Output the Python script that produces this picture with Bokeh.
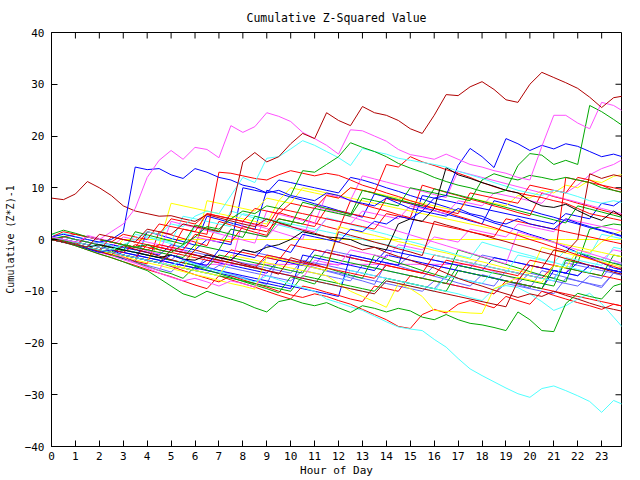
from bokeh.plotting import figure
from bokeh.models import FixedTicker, Range1d
from bokeh.embed import file_html
from bokeh.resources import INLINE

hours = [i * 0.5 for i in range(49)]
x_ticks = list(range(24))
y_ticks = [-40, -30, -20, -10, 0, 10, 20, 30, 40]
X_MAX = 23.83
Y_MIN, Y_MAX = -40, 40

RED = "#ff0000"; GREEN = "#00a800"; BLUE = "#0000ff"; MAGENTA = "#ff50ff"
CYAN = "#50ffff"; DARKRED = "#b00000"; YELLOW = "#ffff00"; BLACK = "#000000"; SLATE = "#6464ff"

s01 = [0,-0.5,-1,-1.5,1,0.5,0,-0.5, 2,1.5,1,3,2.5,2,1.5,5, 15,16.8,15,16,18.5,20.5,19.5,24.5,
       23,22,25.7,24.5,24,23,21.4,20.5, 24,28,27.8,29.5,30.5,29,27,26.5, 30,32.3,31.3,30.3,29.2,27.5,25.5,27.4, 27.8]
s02 = [8,7.7,8.8,11.2,10,8.5,6.5,5.5, 5,4.5,4.6,4,3.5,4.8,4.2,3.6, 3,2.5,4,3.2,2.5,1.8,1.2,0.5,
       -0.5,-1.2,-2,-1.5,-2.5,-3.3,-4,-4.8, -5.5,-6.5,-7.5,-8.3,-9,-9.8,-10.5,-11.2, -10.5,-11,-10,-10.8,-11.5,-12.3,-13,-13.5, -14]
s03 = [0.5,0,-0.5,0.5,0,1.5,3,6, 12,15.3,17.2,15.5,17.8,17.4,15.8,22, 20.7,21.8,24.5,23.8,22.8,20.7,19.5,18.2,
       16.5,21.2,21,20,19,17.4,16.4,16, 15.5,16.5,15.5,14.5,14,13.3,12.8,12, 11.5,18,24,24,22.5,21.4,26.5,25.9, 24.5]
s04 = [1,1.8,1.2,0.5,0,-0.5,-1,-1.5, -1,-2,-2.5,-1,0.5,2.5,2,4, 5.5,5,6.5,6,8.5,13.3,13,14.5,
       16,18.7,17.8,17,16,14.7,13.8,13, 12,11.2,10.5,10,9.3,8.9,9.5,14.3, 16.6,16.3,14.5,15.3,14.5,25.9,24.7,23.2, 21.6]
s05 = [0,-0.5,-1,-1.8,-2.5,-2,-3,-3.5, -4,-4.5,-3,-3.8,-4.5,-5,-2,-2.5, -3,-3.5,-1,-1.8,-2.5,1,0.5,0,
       -0.5,2,1.5,3.5,3,4.5,4,5.5, 8,8.5,14.3,17.6,16,13.9,19.5,18.5, 17.2,18.2,17.5,18.5,18,17,16,16.5, 15.8]
s06 = [0.5,1,0.5,0,-0.5,0,1.5,14, 13.5,13.7,12.5,11.8,13.7,13,12,11.5, 10.5,10,9,9.5,8.5,8,7.5,9,
       8.5,7.5,7,6.5,8,7,6,5.5, 5,4.5,6,5,4.5,3.5,3,4, 3,2.5,2,4,3.2,2.5,1.8,1.2, 0.5]
s07 = [0.5,0,-0.5,-1,-1.5,-2,-1,0, 1.5,1,3,2.5,4.5,5.5,5,8.5, 12,11,15.7,16,17.5,19.1,18.2,17,
       15.8,14.3,17.6,17,16.5,15.7,15.3,14.9, 14.5,14,13.2,12.5,11.8,11,10.3,9.5, 9,8.5,9.5,9,8.3,7.5,7,7.5, 7]
s08 = [0,-0.5,-1,-1.5,-2,-2.5,-3,-3.5, -4,-4.5,-5,-4,-4.8,-5.5,-6.2,-6.8, -7.5,-8.2,-7,-7.8,-8.6,-9.3,-10,-11.5,
       -12.2,-13,-13.7,-14.8,-15.9,-16.9,-17.3,-17.6, -19.3,-20.8,-23,-25,-26.3,-27.5,-28.7,-29.8,
       -30.5,-28.8,-28.3,-29.2,-30.2,-31.3,-33.4,-31.1, -32.1]
s09 = [0,-0.5,-1.2,-2,-2.8,-3.5,-4.3,-5.2, -6,-7.5,-9,-10.5,-11.2,-10,-10.8,-11.5, -12.2,-13.2,-14,-12,-11.5,-12.3,-12.8,-12.2,
       -13.2,-14.1,-12.8,-13.3,-14,-13.3,-13.8,-15, -15.5,-14.5,-15.5,-16.2,-16.5,-17,-17.6,-14,
       -15.5,-17.6,-17.8,-12.4,-10.4,-11,-11.5,-9, -8.3]
s10 = [0,-0.5,-1,0.5,0,-0.5,-1,-1.5, -2,-1,-1.5,-2,1,0.5,0,-0.5, 2.5,2,1.5,4,3.5,3,2.5,6,
       5.5,5,4.5,4,8,7.5,7,6.5, 6,5.5,5,9,8.5,8,7.5,7, 10.5,10,9.5,9,12,11.5,10.5,9.5, 9]
s11 = [0,-0.5,-1,-1.5,-2,-2.5,-3,-3.5, -4,-4.5,-5.2,-6,-6.8,-7.5,-8.2,-7, -7.8,-8.5,-9.2,-10,-10.7,-11.2,-10.5,-11,
       -11.8,-12.5,-13.5,-14.5,-15.5,-16.8,-17.2,-14.5, -13.5,-14.2,-12.5,-11.8,-12.5,-13.2,-11,-11.8,
       -12.5,-10,-10.8,-11.5,-12.2,-12.8,-13.5,-12.5, -13]
s12 = [0,0.5,1,0.5,0,-0.5,1,0.5, 0,3,2.5,2,1.5,5,4.5,4, 3.5,6,5.5,5,7,6.5,6,8.5,
       8,10,9.5,9,14.5,14,16,15, 14.3,13.5,12.8,12,11,10.2,9.5,9, 8.5,8.1,7.5,7,6,5,4.5,4, 3.5]
s13 = [0,-0.5,-1,-1.5,-2,-1,-1.5,-2, -2.5,-3,-1,-1.5,-2,0,-0.5,-1, 10,9.5,9,11.5,11,10.5,10,9.5,
       9,12,11.5,10.8,10,9.3,8.5,7.8, 7,6.3,5.5,4.8,4,3.2,2.5,1.8, 1,0.3,-0.5,-1.5,-2.5,-3.5,-4.5,-5.5, -6]
s14 = [0.5,0,-0.5,-1,-1.5,-2,-2.5,-3, -3.5,-4,-4.5,-5,-5.5,-4,-4.5,-5, -5.5,-6,-6.5,-4,-4.5,-5,-2,-2.5,
       -3,-3.5,-4,-4.5,-2,-2.5,-3,-3.5, -4,-4.5,-5,-5.5,-6,-3.5,-4,-4.5, -5,-5.5,-6,-6.5,-4.5,-5,-5.5,-6, -6.5]
s15 = [0,-0.5,-1,-1.5,-2,-2.5,-3,-3.5, -4,-4.5,-5,-5.5,-6,-6.5,-5,-5.5, -6,-6.5,-7,-7.5,-8,-6,-6.5,-7,
       -7.5,-8,-5,-5.5,-6,-6.5,-7,-7.5, -5,-5.5,-6,-6.5,-7,-7.5,-8,-8.5, -6.5,-7,-7.5,-4.5,-5,-5.5,-6,-6.5, -4.5]
s16 = [0.5,0,-0.5,-1,-0.5,-1,-1.5,-2, -2.5,-1.5,-2,-2.5,-3,-3.5,-4,-4.5, -5,-5.5,-3.5,-4,-4.5,-5,-5.5,-6,
       -6.5,-7,-7.5,-8,-8.5,-9,-9.5,-10, -8,-8.5,-9,-9.5,-10,-10.5,-8.5,-9, -9.5,-10,-10.5,-7.5,-8,-8.5,-9,-6.5, -7]
s17 = [0,0.5,0,-0.5,-1,-1.5,-2,-2.5, -3,-3.5,-4,-2,-2.5,-3,-3.5,-4, -2,-2.5,-3,-3.5,-4,-4.5,-5,-2,
       -2.5,-3,-3.5,-4,-4.5,-5,-3,-3.5, -4,-4.5,-5,-5.5,-3,-3.5,-4,-4.5, -5,-5.5,-6,-6.5,-7,-5,-5.5,-6, -6.5]
s18 = [0,-0.5,-1,-1.5,-2,-2.5,-3,-3.5, -4,-4.5,-5,-5.5,-6,-4.8,-4.8,-4.8, -4.8,-4.8,-4.8,-4.8,-4.8,-4.8,-4.8,-4.8,
       -4.8,-4.8,-4.8,-4.8,-4.8,-4.8,-4.8,-4.8, -4.8,-4.8,-4.8,-4.8,-5.5,-6.2,-7,-7.8, -5,-5.5,-6,-6.5,-3,-3.5,-4,-2, -2.5]
s19 = [0,-0.5,-1,-1.5,-2,-2.5,0,0, 0,0,0,0,0,0,0,0, 0,0,0,0,0,0,0,0,
       0,0,0,0,0,0,0,0, 0,0,0,0,0,0,0,0, 0,0,0,0,0,0,0,0, 0]
s20 = [0,-0.5,-1,-1.5,-2,-2.5,-3.5,-4.5, -5.5,-6.5,-7.3,-8,-7.5,-8.2,-9,-8, -8.5,-9.2,-6,-6.5,-7,-7.5,-4,-4.5,
       -5,-2,-2.5,-3,-3.5,-1,-1.5,-2, 0.5,0,-0.5,2,1.5,1,0.5,3, 2.5,2,1.5,4,3.5,3,2.5,2, 1.5]
s21 = [0,0.5,0,-0.5,-1,-1.5,0.5,0, -0.5,-1,-1.5,-2,0.5,0,-0.5,2, 1.5,1,0.5,3,2.5,2,1.5,4,
       3.5,3,5.5,5,4.5,4,6.5,6, 5.5,5,7.5,7,6.5,9,8.5,8, 7.5,7,9.5,9,10.5,12.5,13.7,14.5, 15.8]
s22 = [0,-0.5,-1.2,-2,-2.8,-3.5,-4.3,-5, -5.8,-6.5,-7.2,-8,-8.8,-9.5,-7,-7.8, -8.5,-9.2,-10,-10.8,-11.5,-9,-9.5,-10.2,
       -10.8,-11.5,-12,-9,-9.5,-10,-7,-7.5, -8,-8.5,-9,-9.5,-10,-10.5,-8,-8.5, -9,-9.5,-10,-10.5,-11,-11.5,-12,-12.5, -13]
s23 = [0.5,0,-0.5,-1,-1.5,-2,-2.5,-1, -1.5,-2,-2.5,-3,-3.5,-4,-4.5,-2, -2.5,-3,-3.5,-4,-1,-1.5,-2,-2.5,
       -3,-3.5,-4,-4.5,-5,-5.5,-6,-6.5, -3,-3.5,-4,-4.5,-5,-5.5,-6,-6.5, -7,-7.5,-5,-5.5,-6,-6.5,-7,-7.5, -8]
s24 = [0,-0.5,-1,-1.5,-2,0.5,0,-0.5, -1,-1.5,-2,2,1.5,1,13,12.8, 12.3,11.8,11.5,12.5,13.3,12.8,12.3,12.8,
       12.4,11.5,10.5,9.8,9,8.3,7.5,6.8, 6,5.3,4.5,3.8,3,2.3,1.5,0.8, 0,-0.7,-1.5,-2.2,-3,-3.7,-4.5,-5.2, -6]
s25 = [0,-0.5,-1,-1.5,-2,-2.5,-1,-1.5, -2,-2.5,-3,-3.5,-1,-1.5,-2,2, 1.5,1,0.5,4,3.5,3,6,5.5,
       5,4.5,8,7.5,7,6.5,10,9.5, 9,8.5,8,7.5,11.5,12.7,12,11.5, 12.4,12,11.5,12,11.5,11,10,9.5, 8.9]
s26 = [0,0.5,0,-0.5,-1,-1.5,-2,-2.5, -3,-3.5,-4,-4.5,-5,-5.5,-3,-3.5, -4,-4.5,-5,-5.5,-6,-6.5,-3,-3.5,
       -4,-4.5,-5,-5.5,-6,-6.5,-7,-7.5, -8,-8.5,-5,-5.5,-6,-6.5,-7,-7.5, -8,-8.5,-9,-4,-4.5,2,2.5,3, 2.7]
s27 = [0,-0.5,-1,-1.5,-2,-2.5,-3,-3.5, -4,-4.5,-2,-2.5,-3,-3.5,-4,-4.5, -5,-5.5,-6,-6.5,-7,-7.5,-8,-8.5,
       -9,-9.5,-10,-10.5,-8,-8.5,-9,-9.5, -10,-7,-7.5,-8,-8.5,-6,-6.5,-3, -3.5,-4,-4.5,-2,-2.5,-3,1,0.5, 0]
s28 = [0,-0.5,-1,-1.5,-2,-2.5,-3,-3.5, -4,-4.5,-5,-5.5,-6,-6.5,-7,-4.5, -5,-5.5,-6,-6.5,-7,-7.5,-8,-8.5,
       -9,-6,-6.5,-7,-7.5,-8,-8.5,-9, -9.5,-10,-10.5,-11.2,-11.8,-9.5,-8.9,-9.3, -10.5,-12,-13.7,-12.8,-11.5,-10.4,-12.4,-15, -17.6]
s29 = [0,-0.5,-1,-1.5,-2,-2.5,-3,-3.5, -4,-4.5,-5,-5.5,-2,7.5,7,6.5, 6,5.5,8,7.5,10,9.5,9,8.5,
       8,10,9.5,9,8.5,8,7.5,7, 6.5,6,5.5,8,7.5,7,6.5,8.5, 8,9.5,9,10.5,10,11.5,11,12.2, 12.7]
s30 = [0,-0.5,-1,-1.5,-2,-2.5,-3,-3.5, -4,-4.5,-5,-5.5,-6,-6.5,-7,-3, -3.5,-4,-4.5,-5,-5.5,-6,-6.5,-7,
       -8.5,-10,-11,-12,-13.1,-8.5,-9.5,-11, -13.7,-13.9,-14,-14.2,-14.3,-9.5,-8.5,-7.3, -7.8,-8.3,-5,-5.5,-2,-2.5,-0.5,1, 2]
s31 = [0,-0.5,-1,-1.5,-1,-1.5,-2,-2.5, -3,-3.5,-3,-3.8,-4,-3,-3.5,-4, -2,-2.5,-1.5,-1,0,1.5,1,0.5,
       0.3,0,-1,-1.5,-2,3,4,3.5, 6,13.9,12.5,11.8,11,10.3,9.5,9, 7.5,6.5,6.2,6.8,5.6,4.5,3.7,5.5, 4]
s32 = [0,0.5,0,-0.5,-1,-1.5,-2,-2.5, -3,-3.5,-4,-4.5,-5,-5.5,-6,-6.5, -7,-7.5,-8,-8.5,-9,-9.5,-10,-10.5,
       -11,-3,-3.5,-4,-4.5,-5,2,8.5, 8,7.5,7,6.5,6,5.5,5,4.5, 4,3.5,3,5,4.5,4,7,6.5, 8.1]
s33 = [0,-0.5,-1,-1.5,-2,-2.5,-3,-3.5, -4,-4.5,-2,-2.5,-3,-3.5,-4,-4.5, -5,-5.5,-6,-6.5,-7,-7.5,-8,-8.5,
       -9,-9.5,-10,-10.5,-8,-8.5,-9,-9.5, -10,-10.5,-11,-11.5,-12,-12.5,-13,-8, -5,-5.5,-2,-2.5,0,12.7,11.8,12.5, 12]
s34 = [0,-0.5,-1,-1.5,-2,-2.5,-3,-3.5, -1,-1.5,-2,-2.5,-3,-3.5,-4,-4.5, -5,-5.5,-3,-3.5,-4,-4.5,-5,-5.5,
       -6,-6.5,-7,-7.5,-5,-5.5,-6,-6.5, -7,-4,-4.5,-5,-5.5,-6,-6.5,-7, -4,-4.5,-5,12,11.5,11,10.5,10, 9.5]
s35 = [0,-0.5,-1,-1.5,-2,-2.5,-3,-3.5, -4,-4.5,-5,-5.5,-6,-3,-3.5,-4, -4.5,-5,-5.5,-6,-6.5,-4,-4.5,-5,
       -5.5,-6,-6.5,-7,-7.5,-8,-8.5,-9, -9.5,-7,-7.5,-8,-8.5,-9,-6,-6.5, -7,-7.5,-8,-8.5,-9,-7,-7.5,-4.5, -5]
s36 = [0.5,0,-0.5,-1,-1.5,-2,-2.5,-3, -3.5,-4,-4.5,-5,-5.5,-6,-6.5,-7, -7.5,-8,-8.5,-9,-9.5,-3,-3.5,-4,
       -4.5,-5,-5.5,-6,-3,-3.5,-4,-4.5, -5,-5.5,-6,-6.5,-7,-7.5,-8,-8.5, -9,-9.5,-6,-6.5,-7,-5,-5.5,-6, -6.5]
s37 = [0.5,1.5,1,0.5,0,-0.5,-1,-1.5, 1.5,1,4,3.5,3,5,4.5,4, 3.5,3,2.5,6,5.5,5,4.5,4,
       3.5,3,2.5,2,5,4.5,4,3.5, 3,2.5,2,1.5,1,0.5,4,3.5, 3,2.5,2,1.5,1,0.5,0,-0.5, -1]
s38 = [0,-0.5,-1,-1.5,-2,-2.5,-3,-3.5, -4,-4.5,-5,-5.5,-6,-6.5,-7,-7.5, -8,-8.5,-9,-9.5,-10,-7,-7.5,-8,
       -8.5,-9,-9.5,-10,-7.5,-8,-8.5,-9, -9.5,-10,-6,-6.5,-7,-7.5,-8,-8.5, -9,-9.5,-5,-5.5,-6,-6.5,-7,-3, -3.5]
s39 = [1,0.5,0,-0.5,-1,-1.5,-2,1, 0.5,0,-0.5,4.5,4,3.5,3,2.5, 5,4.5,4,3.5,3,2.5,2,1.5,
       1,0.5,0,-0.5,-1,-1.5,-2,-2.5, -3,-3.5,-4,-4.5,-5,-5.5,-6,-6.5, -7,-7.5,-8,-3.5,-4,-4.5,-5,-1.5, -2]
s40 = [0,-0.5,-1,-1.5,-2,-2.5,-3,-3.5, -4,-1,7,6.5,6,5.5,5,4.5, 4,3.5,3,7.5,7,10,9.5,9,
       8.5,8,7.5,7,6.5,6,5.5,5, 4.5,4,3.5,3,2.5,2,1.5,1, 0.5,0,-0.5,-1,-1.5,-2,-2.5,-3, -3.5]
s41 = [0,-0.3,-0.9,-1.6,-2.1,-2.9,-3.4,-4.2, -4.7,1.5,0.9,0.2,-0.5,-1.2,3.5,2.8, 2.1,1.4,0.8,5.2,4.5,3.9,3.2,2.5,
       1.9,7.5,6.8,6.1,5.5,4.8,4.2,10.5, 9.8,9.1,8.5,7.8,7.2,6.5,5.9,5.2, 4.6,9,8.3,7.7,7,6.4,5.7,5.1, 4.5]
s42 = [0.3,-0.2,-0.8,-1.5,-2.2,-3,-3.6,-4.4, -5.2,-6,-6.6,-7.5,-5.2,-5.9,-6.6,-7.3, -8.1,-8.8,-9.5,-10.3,-7.2,-7.9,-8.6,-5.5,
       -6.2,-6.9,-7.5,-3,-3.8,-4.5,-5.2,-6, -6.7,-7.4,-2,-2.7,-3.4,-4.1,-4.8,-5.5, -6.2,-6.9,-7.5,-8.2,-2.5,-3.2,-3.9,-4.6, -5.2]
s43 = [0,-0.6,-1.1,-1.8,-2.5,-3.1,-3.9,-4.6, -5.3,-6,-1.5,-2.2,-2.9,-3.6,-4.3,-5, 3.5,2.8,2.1,1.4,0.7,0,6.5,5.8,
       5.1,4.4,3.7,3,2.3,1.6,0.9,0.2, -0.5,-1.2,-1.9,-2.6,-3.3,-4,-4.7,1.5, 0.8,0.1,-0.6,-1.3,-2,-2.7,-3.4,-4.1, -4.8]
s44 = [0.5,1.2,0.6,0,-0.6,-1.2,-1.9,-2.5, 0.5,-0.2,-0.8,-1.5,2.5,1.9,1.2,5.5, 4.8,4.1,3.5,2.8,2.2,1.5,0.9,4.2,
       3.6,2.9,2.3,1.6,1,0.3,-0.4,-1, -1.7,-2.3,-3,-3.6,-0.5,-1.2,-1.8,-2.5, -3.1,-3.8,-4.4,-5.1,-5.8,-6.4,-3.5,-4.1, -4.8]
s45 = [0,-0.4,-1,-1.6,-2.3,-2.9,-3.6,-4.3, -5,-5.6,-6.3,-4,-4.6,-5.3,-6,-6.7, -7.3,-8,-8.7,-3.5,-4.1,-4.8,-5.4,-6.1,
       -6.7,-7.4,-8,-8.7,-4.5,-5.1,-5.8,-6.4, -7.1,-7.7,-8.4,-9,-6.8,-7.4,-8.1,-8.7, -9.4,-6,-6.7,-7.3,-8,-8.6,-9.3,-6.5, -7.1]
s46 = [0.2,-0.4,-1,-1.7,-2.3,-3,-1.2,-1.9, -2.5,-3.2,-3.9,-4.5,-2,-2.7,-3.4,-4, -4.7,-5.3,-6,-6.7,-3.5,-4.2,-4.8,-5.5,
       1.5,0.8,0.2,-0.5,-1.1,-1.8,-2.4,-3.1, 3.5,2.8,2.2,1.5,0.9,0.2,-0.4,-1.1, -1.7,-2.4,-3,-3.7,-4.3,-5,-5.6,-6.3, -6.9]
s47 = [0,-0.5,-1.1,-1.7,-2.4,-3,-3.7,-4.3, 1.5,0.9,0.2,-0.4,-1.1,4.5,3.9,3.2, 2.6,1.9,9.5,8.9,8.2,7.6,6.9,6.3,
       5.6,5,4.3,8.8,8.2,7.5,6.9,6.2, 5.6,4.9,4.3,3.6,3,7.5,6.9,6.2, 5.6,4.9,4.3,3.6,3,2.3,1.7,1, 0.4]
s48 = [0,-0.5,-1,-1.6,-2.2,-2.8,-3.3,-3.9, -4.5,-5,-5.6,-6.2,-6.8,-7.3,-7.9,-8.5, -9,-9.6,-3.2,-3.8,-4.3,-4.9,-5.5,-6,
       2.5,1.9,1.3,0.8,0.2,-0.4,-0.9,-1.5, -2.1,-2.6,-3.2,-3.8,-4.3,-4.9,-5.5,-6, -6.6,-1.5,-2.1,-2.6,-3.2,-3.8,-4.3,-4.9, -5.5]
s49 = [0,0.6,0,-0.5,-1.1,-1.6,-2.2,1.5, 0.9,0.3,-0.3,-0.9,2.8,2.2,1.6,1, 0.4,4.5,3.9,3.3,2.7,7.2,6.6,6,
       5.4,4.8,9.5,8.9,8.3,7.7,7.1,6.5, 9.8,9.2,8.6,8,7.4,6.8,6.2,5.6, 5,4.4,3.8,3.2,6.5,5.9,5.3,4.7, 4.1]
s50 = [0,-0.5,-1.1,0.8,0.2,-0.4,-1,-1.6, -2.2,-2.8,3.5,2.9,2.3,1.7,1.1,0.5, -0.1,-0.7,5.5,4.9,4.3,3.7,3.1,8.8,
       8.2,7.6,12.3,11.7,11.1,10.5,9.9,9.3, 8.7,8.1,13.2,12.6,12,11.4,10.8,10.2, 9.6,9,8.4,7.8,7.2,6.6,6,5.4, 4.8]

series = [
    (s19, YELLOW), (s18, MAGENTA), (s15, SLATE), (s16, SLATE), (s17, SLATE), (s35, SLATE), (s45, SLATE),
    (s14, BLUE), (s36, BLUE), (s47, BLUE), (s13, BLUE), (s32, BLUE), (s22, RED), (s23, RED), (s11, RED), (s41, RED),
    (s26, GREEN), (s38, GREEN), (s42, GREEN), (s27, CYAN), (s28, CYAN), (s39, CYAN), (s44, CYAN),
    (s30, YELLOW), (s29, YELLOW), (s40, YELLOW), (s48, YELLOW), (s20, MAGENTA), (s21, MAGENTA), (s43, MAGENTA),
    (s50, MAGENTA), (s46, DARKRED), (s37, RED), (s24, RED), (s10, RED), (s12, RED), (s34, RED), (s25, GREEN),
    (s49, GREEN), (s33, DARKRED), (s31, BLACK), (s02, DARKRED), (s06, BLUE), (s05, BLUE), (s07, CYAN),
    (s08, CYAN), (s09, GREEN), (s04, GREEN), (s03, MAGENTA), (s01, DARKRED),
]

FONT = "DejaVu Sans Mono"
FRAME_W, FRAME_H = 570, 414
TICK_PX = 6

p = figure(width=640, height=480, x_range=Range1d(0, X_MAX), y_range=Range1d(Y_MIN, Y_MAX),
           output_backend="svg", toolbar_location=None,
           min_border_left=51, min_border_right=19, min_border_top=32, min_border_bottom=34,
           title="Cumulative Z-Squared Value")
p.title.align = "center"
p.title.text_font = FONT
p.title.text_font_size = "11.5px"
p.title.text_font_style = "normal"
p.title.text_color = "black"
p.title.standoff = 16

p.xgrid.visible = False
p.ygrid.visible = False
p.outline_line_color = "black"
p.outline_line_width = 1
p.background_fill_color = "white"
p.border_fill_color = "white"

p.xaxis.ticker = FixedTicker(ticks=x_ticks)
p.yaxis.ticker = FixedTicker(ticks=y_ticks)
p.xaxis.axis_label = "Hour of Day"
p.yaxis.axis_label = "Cumulative (Z*Z)-1"
for ax in (p.xaxis[0], p.yaxis[0]):
    ax.major_tick_in = TICK_PX
    ax.major_tick_out = 0
    ax.minor_tick_in = 0
    ax.minor_tick_out = 0
    ax.axis_line_color = "black"
    ax.major_tick_line_color = "black"
    ax.major_label_text_font = FONT
    ax.major_label_text_font_size = "11px"
    ax.major_label_text_color = "black"
    ax.axis_label_text_font = FONT
    ax.axis_label_text_font_size = "11px"
    ax.axis_label_text_font_style = "normal"
    ax.axis_label_text_color = "black"
p.xaxis.major_label_standoff = 5
p.xaxis.axis_label_standoff = 1
p.yaxis.major_label_standoff = 7
p.yaxis.axis_label_standoff = 6
p.yaxis.axis_label_text_font_size = "10px"

# mirrored inward ticks on the top and right borders
dy = TICK_PX * (Y_MAX - Y_MIN) / FRAME_H
dx = TICK_PX * X_MAX / FRAME_W
p.segment(x0=x_ticks, y0=[Y_MAX] * len(x_ticks), x1=x_ticks, y1=[Y_MAX - dy] * len(x_ticks),
          line_color="black", line_width=1)
p.segment(x0=[X_MAX] * len(y_ticks), y0=y_ticks, x1=[X_MAX - dx] * len(y_ticks), y1=y_ticks,
          line_color="black", line_width=1)

for vals, col in series:
    p.line(hours, vals, line_color=col, line_width=1)

open("out.html", "w").write(file_html(p, INLINE))
